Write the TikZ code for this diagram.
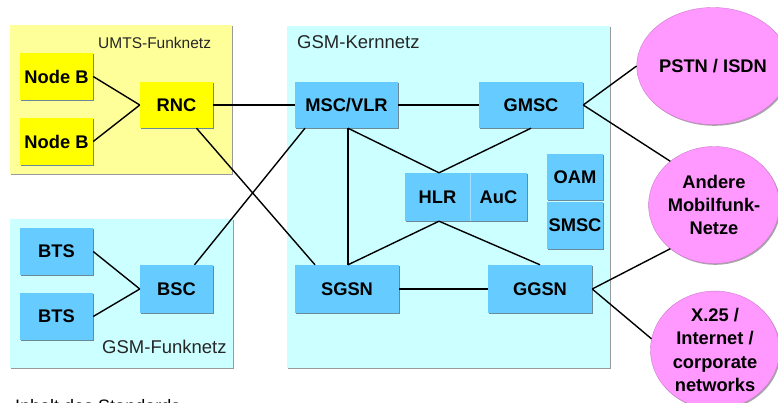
\documentclass[tikz,border=0pt]{standalone}
\usepackage{fontspec}
\setmainfont{Liberation Sans}
\usetikzlibrary{shapes.geometric,shadows}
\definecolor{areaY}{HTML}{FFFF99}
\definecolor{nodeY}{HTML}{FFFF00}
\definecolor{areaC}{HTML}{CCFFFF}
\definecolor{nodeC}{HTML}{66CCFF}
\definecolor{pinkE}{HTML}{FF99FF}
\definecolor{shadowG}{HTML}{6A8A9A}
\tikzset{
  areabox/.style={draw=none, fill=#1, drop shadow={shadow xshift=1.3pt, shadow yshift=-1.3pt, fill=gray!80, opacity=1}},
  arealabel/.style={anchor=west, inner sep=0pt, text=black!85, font=\fontsize{18.5}{21}\selectfont},
  nbox/.style={fill=#1, draw=none, inner sep=0pt, font=\bfseries\fontsize{18.3}{21}\selectfont,
     drop shadow={shadow xshift=1.3pt, shadow yshift=-1.3pt, fill=shadowG, opacity=1}},
  cloud/.style={ellipse, fill=pinkE, draw=pinkE!80!black, line width=0.4pt, inner sep=0pt,
     minimum width=129pt, minimum height=117pt, align=center,
     font=\bfseries\fontsize{18.3}{23.3}\selectfont,
     drop shadow={shadow xshift=1.3pt, shadow yshift=-1.3pt, fill=gray!70, opacity=1}},
  link/.style={line width=1.4pt, black}
}
\begin{document}
\begin{tikzpicture}[x=1pt,y=-1pt]
\useasboundingbox (0,0) rectangle (778,403);
\begin{scope}
\clip (0,0) rectangle (778,403);
\fill[white] (0,0) rectangle (778,403);
% areas
\path[areabox=areaY] (10,25) rectangle (232,174);
\path[areabox=areaC] (10,219) rectangle (233,368);
\path[areabox=areaC] (287,26) rectangle (610,368);
\node[arealabel, font=\fontsize{15.5}{18}\selectfont] (lumts) at (98,43) {UMTS-Funknetz};
\node[arealabel] (lkern) at (297,42) {GSM-Kernnetz};
\node[arealabel] (lgsm) at (102,347) {GSM-Funknetz};
% nodes
\node[nbox=nodeY, minimum width=73pt, minimum height=47pt] (nb1) at (56.5,76.5) {Node B};
\node[nbox=nodeY, minimum width=73pt, minimum height=47pt] (nb2) at (56.5,141.5) {Node B};
\node[nbox=nodeY, minimum width=73pt, minimum height=46pt] (rnc) at (176.5,105) {RNC};
\node[nbox=nodeC, minimum width=73pt, minimum height=47pt] (bts1) at (56.5,251.5) {BTS};
\node[nbox=nodeC, minimum width=73pt, minimum height=47pt] (bts2) at (56.5,316.5) {BTS};
\node[nbox=nodeC, minimum width=73pt, minimum height=48pt] (bsc) at (176.5,289) {BSC};
\node[nbox=nodeC, minimum width=103pt, minimum height=46pt] (msc) at (346.5,105) {MSC/VLR};
\node[nbox=nodeC, minimum width=104pt, minimum height=46pt] (gmsc) at (531,105) {GMSC};
\node[nbox=nodeC, minimum width=122pt, minimum height=48pt] (hlrbg) at (466,197) {};
\node[inner sep=0pt, minimum width=65pt, minimum height=48pt, font=\bfseries\fontsize{18.3}{21}\selectfont] (hlr) at (437.5,197) {HLR};
\node[inner sep=0pt, minimum width=57pt, minimum height=48pt, font=\bfseries\fontsize{18.3}{21}\selectfont] (auc) at (498.5,197) {AuC};
\draw[nodeC!60!white, line width=0.8pt] (hlr.north east) -- (hlr.south east);
\node[nbox=nodeC, minimum width=56pt, minimum height=46pt] (oam) at (575,177) {OAM};
\node[nbox=nodeC, minimum width=56pt, minimum height=47pt] (smsc) at (575,225.5) {SMSC};
\node[nbox=nodeC, minimum width=104pt, minimum height=48pt] (sgsn) at (347,289) {SGSN};
\node[nbox=nodeC, minimum width=104pt, minimum height=48pt] (ggsn) at (540,289) {GGSN};
% external networks
\node[cloud] (pstn) at (713,66) {PSTN / ISDN};
\node[cloud] (andere) at (714,205) {Andere\\Mobilfunk-\\Netze};
\node[cloud] (x25) at (715,350) {X.25 /\\Internet /\\corporate\\networks};
% links
\draw[link] (nb1.east) -- (rnc.west);
\draw[link] (nb2.east) -- (rnc.west);
\draw[link] (bts1.east) -- (bsc.west);
\draw[link] (bts2.east) -- (bsc.west);
\draw[link] (rnc.east) -- (msc.west);
\draw[link] ([xshift=20pt]rnc.south) -- ([xshift=-32pt]sgsn.north);
\draw[link] ([xshift=18pt]bsc.north) -- ([xshift=-41.5pt]msc.south);
\draw[link] (msc.east) -- (gmsc.west);
\draw[link] ([xshift=1.5pt]msc.south) -- ([xshift=1pt]sgsn.north);
\draw[link] ([xshift=1.5pt]msc.south) -- ([xshift=1.5pt]hlr.north);
\draw[link] (gmsc.south) -- ([xshift=1.5pt]hlr.north);
\draw[link] ([xshift=1.5pt]hlr.south) -- ([xshift=1pt]sgsn.north);
\draw[link] ([xshift=1.5pt]hlr.south) -- (ggsn.north);
\draw[link] (sgsn.east) -- (ggsn.west);
\draw[link] (gmsc.east) -- (pstn.west);
\draw[link] (gmsc.east) -- (andere.135);
\draw[link] (ggsn.east) -- (andere.225);
\draw[link] (ggsn.east) -- (x25.170);
% caption, cut off at the bottom edge as in the reference
\node[anchor=base west, inner sep=0pt, font=\fontsize{18}{21}\selectfont] (cap) at (15,412) {Inhalt des Standards};
\end{scope}
\end{tikzpicture}
\end{document}
